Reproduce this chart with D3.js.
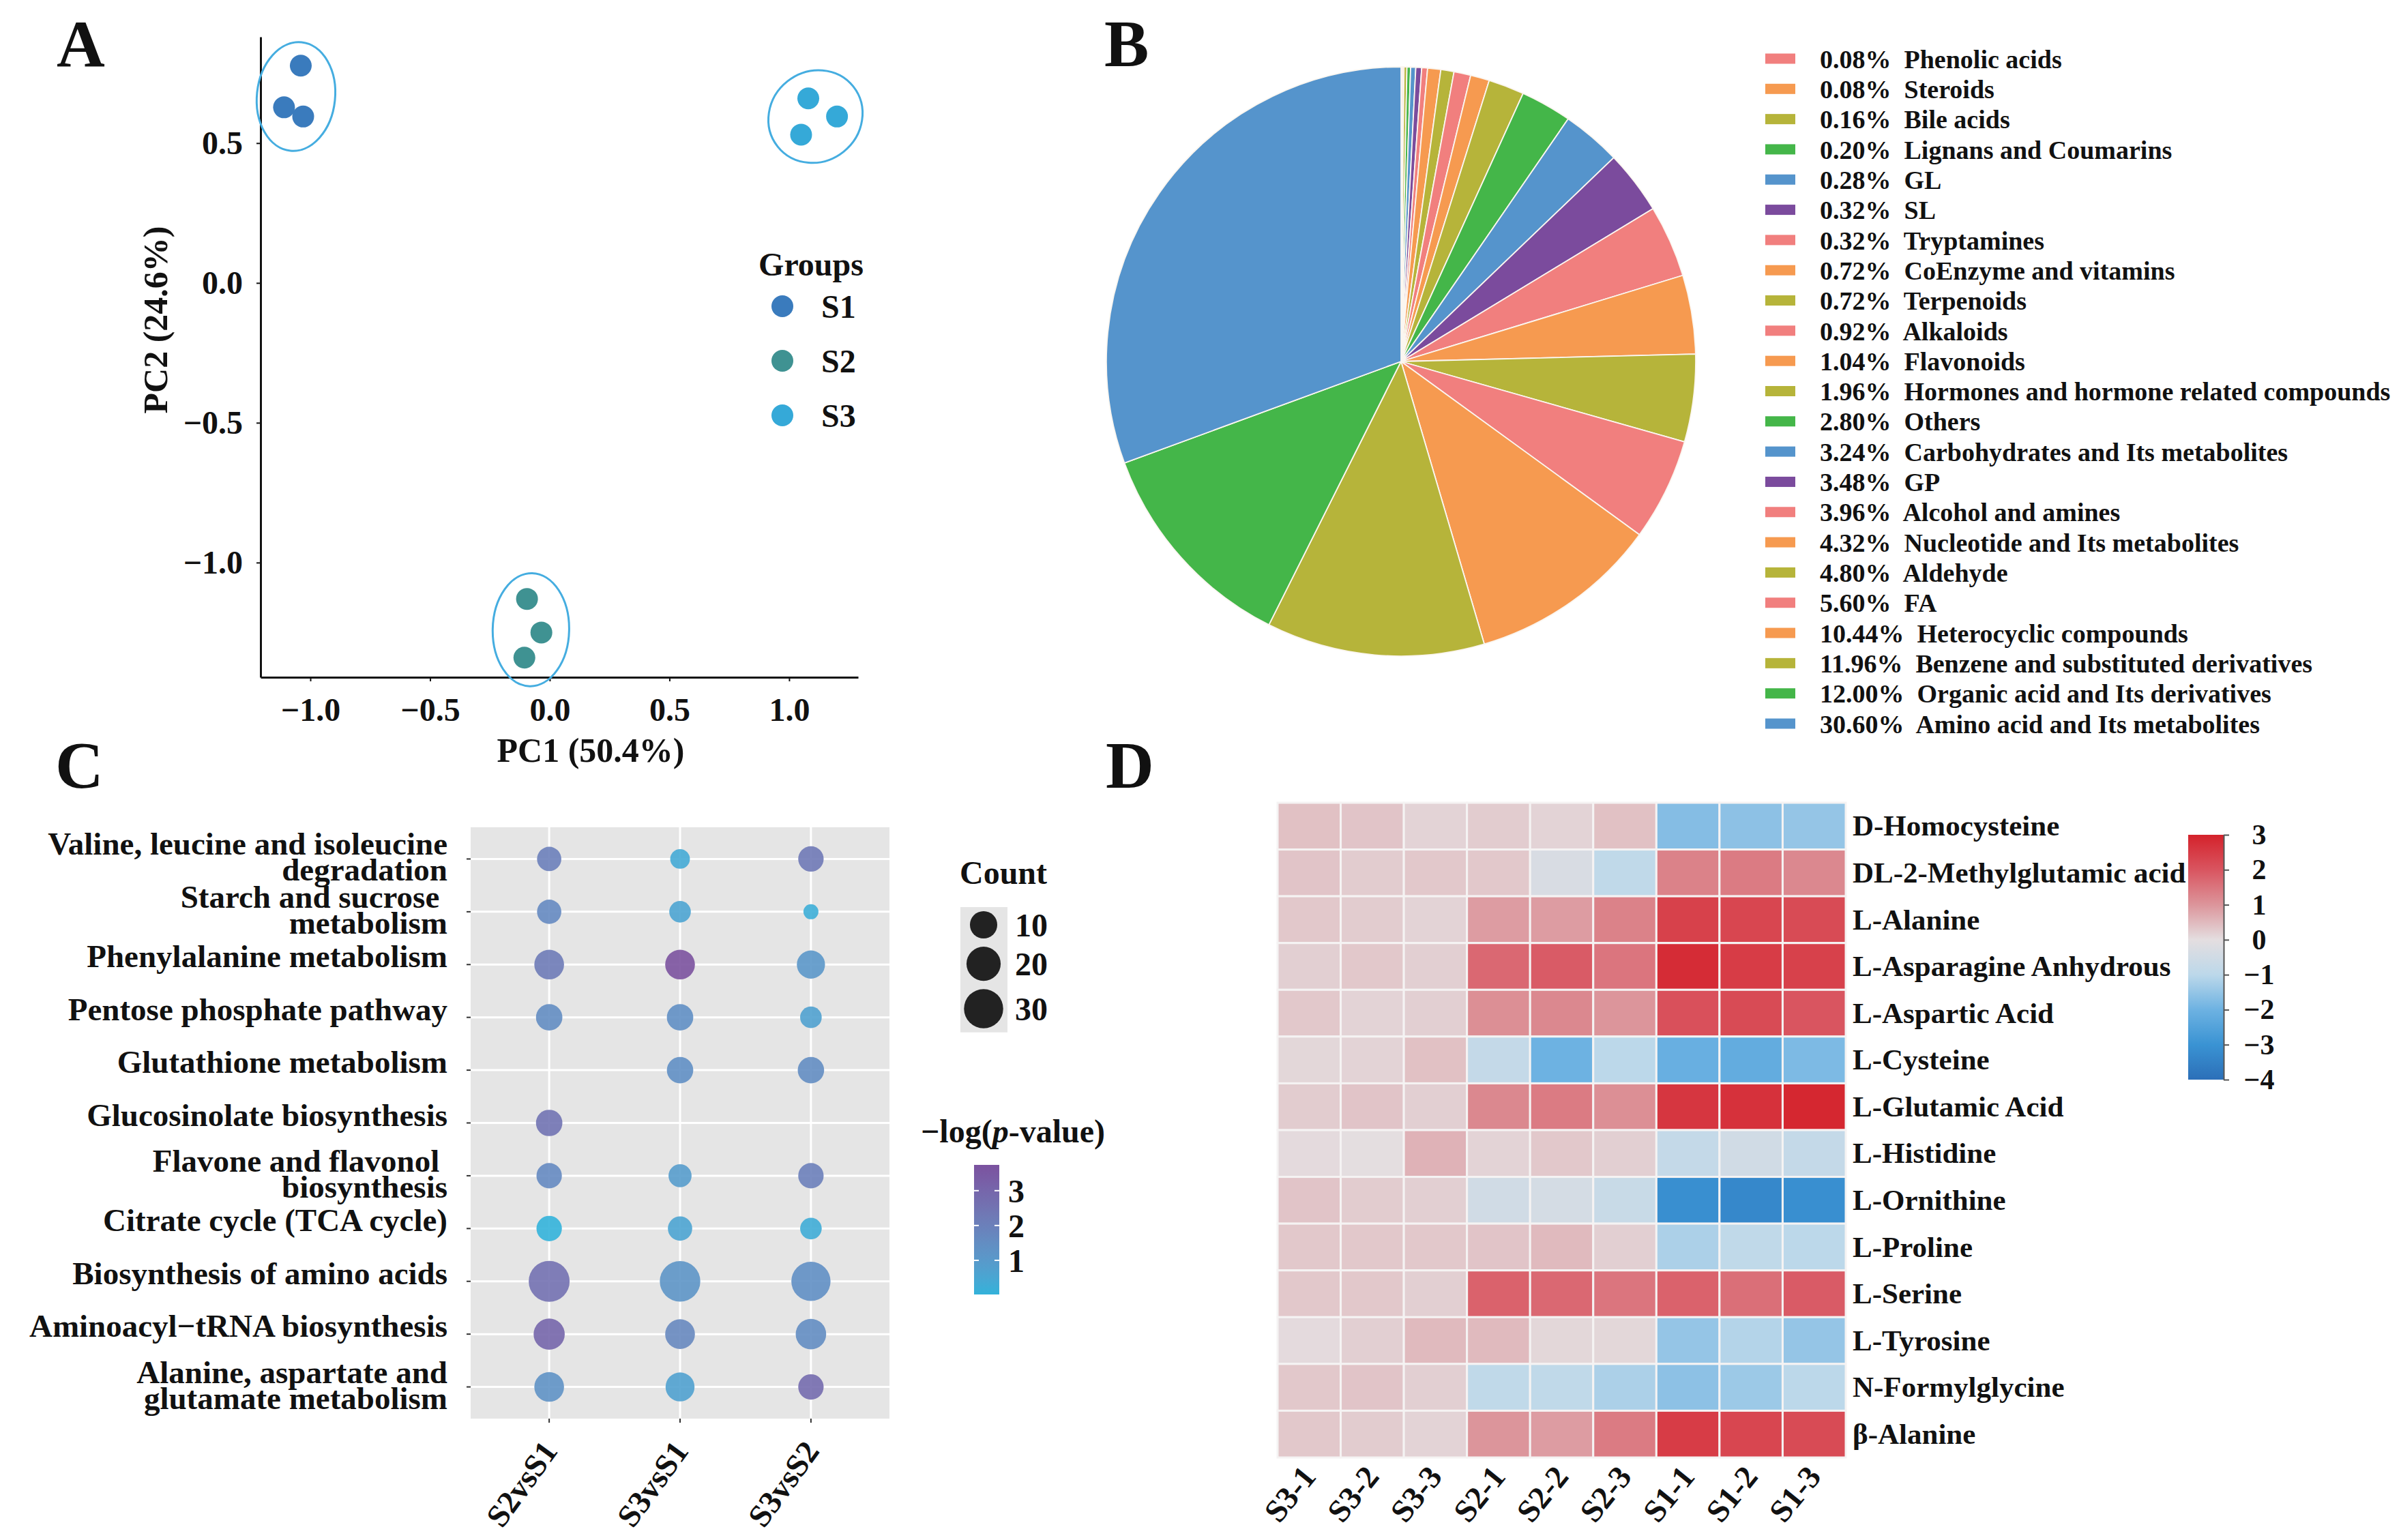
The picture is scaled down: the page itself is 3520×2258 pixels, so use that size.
<!DOCTYPE html>
<html>
<head>
<meta charset="utf-8">
<script src="https://cdn.jsdelivr.net/npm/d3@7"></script>
<style>
  body { margin: 0; background: #fff; }
  svg text { font-family: "Liberation Serif", "Times New Roman", serif; font-weight: bold; fill: #111; }
</style>
</head>
<body>
<script>
// ---- A: PCA ----
const pcaGroups = ["S1", "S2", "S3"];
const pcaSampleGroup = ["S1", "S1", "S1", "S2", "S2", "S2", "S3", "S3", "S3"];
const pcaPC1 = [-1.04, -1.11, -1.03, -0.095, -0.035, -0.106, 1.08, 1.20, 1.05];
const pcaPC2 = [0.777, 0.628, 0.595, -1.13, -1.25, -1.34, 0.66, 0.595, 0.53];
const pcaTicks = [-1.0, -0.5, 0.0, 0.5, 1.0];
const pcaYTicks = [-1.0, -0.5, 0.0, 0.5];

// ---- B: class composition ----
const classNames = ["Phenolic acids", "Steroids", "Bile acids", "Lignans and Coumarins", "GL", "SL",
  "Tryptamines", "CoEnzyme and vitamins", "Terpenoids", "Alkaloids", "Flavonoids",
  "Hormones and hormone related compounds", "Others", "Carbohydrates and Its metabolites", "GP",
  "Alcohol and amines", "Nucleotide and Its metabolites", "Aldehyde", "FA", "Heterocyclic compounds",
  "Benzene and substituted derivatives", "Organic acid and Its derivatives", "Amino acid and Its metabolites"];
const classPercent = [0.08, 0.08, 0.16, 0.20, 0.28, 0.32, 0.32, 0.72, 0.72, 0.92, 1.04, 1.96, 2.80,
  3.24, 3.48, 3.96, 4.32, 4.80, 5.60, 10.44, 11.96, 12.00, 30.60];

// ---- C: KEGG enrichment ----
const pathways = ["Valine, leucine and isoleucine\ndegradation", "Starch and sucrose \nmetabolism",
  "Phenylalanine metabolism", "Pentose phosphate pathway", "Glutathione metabolism",
  "Glucosinolate biosynthesis", "Flavone and flavonol \nbiosynthesis", "Citrate cycle (TCA cycle)",
  "Biosynthesis of amino acids", "Aminoacyl\u2212tRNA biosynthesis", "Alanine, aspartate and\nglutamate metabolism"];
const comparisons = ["S2vsS1", "S3vsS1", "S3vsS2"];
const pathwayCount = [
  [7, 4, 8], [7, 5, 3], [13, 13, 11], [9, 9, 5], [null, 9, 9], [9, null, null],
  [8, 6, 8], [8, 7, 5], [34, 33, 30], [15, 13, 14], [13, 12, 8]];
const pathwayLogP = [
  [2.0, 0.35, 2.3], [1.6, 0.6, 0.2], [2.2, 3.74, 1.1], [1.5, 1.4, 0.7], [null, 1.4, 1.5], [2.5, null, null],
  [1.6, 0.9, 2.0], [0.02, 0.6, 0.25], [2.6, 1.2, 1.4], [3.0, 1.7, 1.5], [1.3, 0.7, 2.8]];
const countLegend = [10, 20, 30];
const logPTicks = [1, 2, 3];

// ---- D: heatmap ----
const samples = ["S3-1", "S3-2", "S3-3", "S2-1", "S2-2", "S2-3", "S1-1", "S1-2", "S1-3"];
const metabolites = ["D-Homocysteine", "DL-2-Methylglutamic acid", "L-Alanine", "L-Asparagine Anhydrous",
  "L-Aspartic Acid", "L-Cysteine", "L-Glutamic Acid", "L-Histidine", "L-Ornithine", "L-Proline",
  "L-Serine", "L-Tyrosine", "N-Formylglycine", "\u03b2-Alanine"];
const zScores = [
  [0.40, 0.35, 0.15, 0.25, 0.15, 0.40, -1.7, -1.6, -1.5],
  [0.35, 0.25, 0.30, 0.30, -0.30, -0.90, 1.3, 1.4, 1.2],
  [0.30, 0.25, 0.15, 0.90, 0.90, 1.30, 2.4, 2.3, 2.2],
  [0.20, 0.30, 0.20, 1.70, 1.90, 1.50, 2.8, 2.5, 2.4],
  [0.30, 0.15, 0.20, 1.10, 1.20, 1.00, 2.1, 2.2, 2.0],
  [0.10, 0.15, 0.40, -0.80, -2.00, -1.00, -2.1, -2.2, -1.8],
  [0.25, 0.35, 0.20, 1.20, 1.40, 1.10, 2.6, 2.7, 2.9],
  [0.05, 0.00, 0.60, 0.15, 0.30, 0.20, -0.8, -0.5, -0.8],
  [0.35, 0.25, 0.20, -0.50, -0.40, -0.70, -3.1, -3.3, -3.1],
  [0.30, 0.30, 0.30, 0.35, 0.50, 0.20, -1.2, -0.9, -1.0],
  [0.30, 0.30, 0.20, 1.80, 1.70, 1.50, 1.8, 1.6, 1.9],
  [0.05, 0.20, 0.50, 0.50, 0.10, 0.10, -1.5, -1.1, -1.5],
  [0.30, 0.35, 0.20, -0.90, -0.90, -1.20, -1.6, -1.4, -1.0],
  [0.30, 0.25, 0.15, 1.00, 0.90, 1.40, 2.5, 2.3, 2.2]];
const zTicks = [-4, -3, -2, -1, 0, 1, 2, 3];

// styles
const groupColors = { S1: "#3a7bbd", S2: "#3f9292", S3: "#35a9d8" };
const pink = "#f17f7e", orange = "#f69a50", olive = "#b6b43a", green = "#44b649", blue = "#5594cc", purple = "#7b4b9d";
const pieColors = [pink, orange, olive, green, blue, purple, pink, orange, olive, pink, orange, olive,
  green, blue, purple, pink, orange, olive, pink, orange, olive, green, blue];
const heatStops = ["#2c6fb8", "#3a93d3", "#6db2e2", "#bcd8ea", "#e4dee0", "#dc959b", "#d95560", "#d4222b"];

const width = 3520;
const height = 2258;

const svg = d3.select("body").append("svg")
  .attr("width", width)
  .attr("height", height)
  .style("display", "block")
  .style("background", "#fff");

const styleAxis = (g, size) => {
  g.attr("font-family", null).attr("font-size", null);
  g.selectAll("text").style("font-size", size + "px");
  g.selectAll("path, line").attr("stroke", "#111");
};

// panel letters
[["A", 83, 97], ["B", 1619, 97], ["C", 81, 1155], ["D", 1621, 1155]].forEach(([t, x, y]) => {
  svg.append("text").attr("x", x).attr("y", y).style("font-size", "98px").text(t);
});

// ================= A =================
const xA = d3.scaleLinear().domain([-1.208, 1.288]).range([382, 1258]);
const yA = d3.scaleLinear().domain([-1.41, 0.88]).range([993, 54]);

const gA = svg.append("g");
gA.append("g")
  .attr("transform", "translate(0,993)")
  .call(d3.axisBottom(xA).tickValues(pcaTicks).tickFormat(d3.format(".1f")).tickSize(6).tickSizeOuter(0).tickPadding(24))
  .call(g => styleAxis(g, 48))
  .call(g => g.select(".domain").attr("stroke-width", 3))
  .call(g => g.selectAll(".tick line").attr("stroke-width", 2));
gA.append("g")
  .attr("transform", "translate(382,0)")
  .call(d3.axisLeft(yA).tickValues(pcaYTicks).tickFormat(d3.format(".1f")).tickSize(6).tickSizeOuter(0).tickPadding(20))
  .call(g => styleAxis(g, 48))
  .call(g => g.select(".domain").attr("stroke-width", 3))
  .call(g => g.selectAll(".tick line").attr("stroke-width", 2));

gA.append("text").attr("x", 866).attr("y", 1117).attr("text-anchor", "middle")
  .style("font-size", "50px").text("PC1 (50.4%)");
gA.append("text").attr("transform", "translate(245,469) rotate(-90)").attr("text-anchor", "middle")
  .style("font-size", "50px").text("PC2 (24.6%)");

const pcaPoints = pcaPC1.map((v, i) => ({ g: pcaSampleGroup[i], x: xA(v), y: yA(pcaPC2[i]) }));

// confidence-style ellipse from the covariance of each group's points
pcaGroups.forEach(grp => {
  const pts = pcaPoints.filter(p => p.g === grp);
  const mx = d3.mean(pts, p => p.x), my = d3.mean(pts, p => p.y);
  let sxx = 0, syy = 0, sxy = 0;
  pts.forEach(p => { sxx += (p.x - mx) ** 2; syy += (p.y - my) ** 2; sxy += (p.x - mx) * (p.y - my); });
  sxx /= pts.length - 1; syy /= pts.length - 1; sxy /= pts.length - 1;
  const tr = sxx + syy, det = sxx * syy - sxy * sxy;
  const disc = Math.sqrt(Math.max(0, tr * tr / 4 - det));
  const l1 = tr / 2 + disc, l2 = tr / 2 - disc;
  const ang = Math.abs(sxy) < 1e-9 ? (sxx >= syy ? 0 : 90) : Math.atan2(l1 - sxx, sxy) * 180 / Math.PI;
  gA.append("ellipse")
    .attr("transform", `translate(${mx},${my}) rotate(${ang})`)
    .attr("rx", 0.9 * Math.sqrt(l1) + 44)
    .attr("ry", 0.9 * Math.sqrt(Math.max(l2, 0)) + 44)
    .attr("fill", "none")
    .attr("stroke", "#45ade0")
    .attr("stroke-width", 3);
});

gA.selectAll("circle.pt")
  .data(pcaPoints)
  .enter()
  .append("circle")
  .attr("class", "pt")
  .attr("cx", d => d.x)
  .attr("cy", d => d.y)
  .attr("r", 16)
  .attr("fill", d => groupColors[d.g]);

const legA = gA.append("g");
legA.append("text").attr("x", 1189).attr("y", 404).attr("text-anchor", "middle").style("font-size", "48px").text("Groups");
const legAy = d3.scalePoint().domain(pcaGroups).range([449, 609]);
pcaGroups.forEach(grp => {
  legA.append("circle").attr("cx", 1147).attr("cy", legAy(grp)).attr("r", 16).attr("fill", groupColors[grp]);
  legA.append("text").attr("x", 1204).attr("y", legAy(grp)).attr("dy", "0.36em").style("font-size", "48px").text(grp);
});

// ================= B =================
const gB = svg.append("g").attr("transform", "translate(2054,530)");
const pie = d3.pie().sort(null).value(d => d).startAngle(0).endAngle(2 * Math.PI);
const arc = d3.arc().innerRadius(0).outerRadius(432);
gB.selectAll("path")
  .data(pie(classPercent))
  .enter()
  .append("path")
  .attr("d", arc)
  .attr("fill", (d, i) => pieColors[i])
  .attr("stroke", "#fbf6f0")
  .attr("stroke-width", 1.8);

const legBy = d3.scaleLinear().domain([0, classNames.length - 1]).range([86, 1061]);
const legB = svg.append("g");
classNames.forEach((name, i) => {
  legB.append("rect").attr("x", 2588).attr("y", legBy(i) - 7.5).attr("width", 44).attr("height", 15).attr("fill", pieColors[i]);
  legB.append("text")
    .attr("x", 2668).attr("y", legBy(i)).attr("dy", "0.36em")
    .style("font-size", "38px").style("white-space", "pre")
    .text(d3.format(".2f")(classPercent[i]) + "%  " + name);
});

// ================= C =================
const gC = svg.append("g");
const panelC = { x0: 690, x1: 1304, y0: 1213, y1: 2080 };
const xC = d3.scalePoint().domain(comparisons).range([panelC.x0, panelC.x1]).padding(0.6);
const yC = d3.scalePoint().domain(pathways).range([panelC.y0, panelC.y1]).padding(0.6);

gC.append("rect").attr("x", panelC.x0).attr("y", panelC.y0)
  .attr("width", panelC.x1 - panelC.x0).attr("height", panelC.y1 - panelC.y0).attr("fill", "#e5e5e5");
comparisons.forEach(c => {
  gC.append("line").attr("x1", xC(c)).attr("x2", xC(c)).attr("y1", panelC.y0).attr("y2", panelC.y1)
    .attr("stroke", "#fff").attr("stroke-width", 3);
  gC.append("line").attr("x1", xC(c)).attr("x2", xC(c)).attr("y1", panelC.y1).attr("y2", panelC.y1 + 6)
    .attr("stroke", "#333").attr("stroke-width", 2);
  gC.append("text")
    .attr("transform", `translate(${xC(c) + 14},${panelC.y1 + 48}) rotate(-54)`)
    .attr("text-anchor", "end")
    .style("font-size", "47px")
    .text(c);
});
pathways.forEach(p => {
  const yc = yC(p);
  gC.append("line").attr("x1", panelC.x0).attr("x2", panelC.x1).attr("y1", yc).attr("y2", yc)
    .attr("stroke", "#fff").attr("stroke-width", 3);
  gC.append("line").attr("x1", panelC.x0 - 6).attr("x2", panelC.x0).attr("y1", yc).attr("y2", yc)
    .attr("stroke", "#333").attr("stroke-width", 2);
  const lines = p.split("\n");
  const t = gC.append("text").attr("text-anchor", "end").style("font-size", "47px").style("white-space", "pre");
  if (lines.length === 1) {
    t.append("tspan").attr("x", 656).attr("y", yc + 4).text(lines[0]);
  } else {
    t.append("tspan").attr("x", 656).attr("y", yc - 6).text(lines[0]);
    t.append("tspan").attr("x", 656).attr("y", yc + 32).text(lines[1]);
  }
});

const allCounts = pathwayCount.flat().filter(v => v != null);
const allLogP = pathwayLogP.flat().filter(v => v != null);
const countMin = d3.min(allCounts), countMax = d3.max(allCounts);
const sizeC = d3.scaleSqrt().domain([0, countMax - countMin]).range([11, 30]);
const radiusOf = c => sizeC(Math.max(0, c - countMin));
const colorC = d3.scaleLinear().domain(d3.extent(allLogP)).range(["#33b2da", "#7b529f"]).interpolate(d3.interpolateLab);

const dotData = [];
pathways.forEach((p, i) => comparisons.forEach((c, j) => {
  if (pathwayCount[i][j] != null) dotData.push({ p, c, n: pathwayCount[i][j], v: pathwayLogP[i][j] });
}));
gC.selectAll("circle.dot")
  .data(dotData)
  .enter()
  .append("circle")
  .attr("class", "dot")
  .attr("cx", d => xC(d.c))
  .attr("cy", d => yC(d.p))
  .attr("r", d => radiusOf(d.n))
  .attr("fill", d => colorC(d.v))
  .attr("fill-opacity", 0.9);

// size legend
gC.append("text").attr("x", 1407).attr("y", 1296).style("font-size", "48px").text("Count");
const keyH = countLegend.map(c => Math.max(2 * radiusOf(c) + 12, 50));
gC.append("rect").attr("x", 1408).attr("y", 1330).attr("width", 69).attr("height", d3.sum(keyH)).attr("fill", "#e5e5e5");
let keyY = 1330;
countLegend.forEach((c, i) => {
  const cy = keyY + keyH[i] / 2;
  gC.append("circle").attr("cx", 1442).attr("cy", cy).attr("r", radiusOf(c)).attr("fill", "#222");
  gC.append("text").attr("x", 1488).attr("y", cy).attr("dy", "0.36em").style("font-size", "48px").text(c);
  keyY += keyH[i];
});

// colour legend
const cbC = { x: 1428, w: 37, y0: 1708, y1: 1898 };
const yCb = d3.scaleLinear().domain(colorC.domain()).range([cbC.y1, cbC.y0]);
const defs = svg.append("defs");
const gradC = defs.append("linearGradient").attr("id", "gradC").attr("x1", 0).attr("x2", 0).attr("y1", 1).attr("y2", 0);
d3.range(0, 1.0001, 0.1).forEach(t => {
  const v = colorC.domain()[0] + t * (colorC.domain()[1] - colorC.domain()[0]);
  gradC.append("stop").attr("offset", t).attr("stop-color", colorC(v));
});
const titleC = gC.append("text").attr("x", 1620).attr("y", 1675).attr("text-anchor", "end").style("font-size", "48px");
titleC.append("tspan").text("\u2212log(");
titleC.append("tspan").style("font-style", "italic").text("p");
titleC.append("tspan").text("-value)");
gC.append("rect").attr("x", cbC.x).attr("y", cbC.y0).attr("width", cbC.w).attr("height", cbC.y1 - cbC.y0).attr("fill", "url(#gradC)");
logPTicks.forEach(t => {
  [cbC.x, cbC.x + cbC.w - 7].forEach(x0 => {
    gC.append("line").attr("x1", x0).attr("x2", x0 + 7).attr("y1", yCb(t)).attr("y2", yCb(t))
      .attr("stroke", "#fff").attr("stroke-width", 2);
  });
  gC.append("text").attr("x", 1478).attr("y", yCb(t)).attr("dy", "0.36em").style("font-size", "48px").text(t);
});

// ================= D =================
const gD = svg.append("g");
const xD = d3.scaleBand().domain(samples).range([1873, 2706]);
const yD = d3.scaleBand().domain(metabolites).range([1177, 2137]);
const colorD = d3.scaleLinear().domain(zTicks).range(heatStops).clamp(true);

const cells = [];
metabolites.forEach((m, i) => samples.forEach((s, j) => cells.push({ m, s, v: zScores[i][j] })));
gD.selectAll("rect.cell")
  .data(cells)
  .enter()
  .append("rect")
  .attr("class", "cell")
  .attr("x", d => xD(d.s))
  .attr("y", d => yD(d.m))
  .attr("width", xD.bandwidth())
  .attr("height", yD.bandwidth())
  .attr("fill", d => colorD(d.v))
  .attr("stroke", "#f5f3f3")
  .attr("stroke-width", 3);

metabolites.forEach(m => {
  gD.append("text").attr("x", 2716).attr("y", yD(m) + yD.bandwidth() / 2).attr("dy", "0.33em")
    .style("font-size", "43px").text(m);
});
samples.forEach(s => {
  gD.append("text")
    .attr("transform", `translate(${xD(s) + xD.bandwidth() / 2 + 12},2166) rotate(-51)`)
    .attr("text-anchor", "end")
    .style("font-size", "47px")
    .text(s);
});

// colour bar
const yZ = d3.scaleLinear().domain([-4, 3]).range([1583, 1224]);
const gradD = defs.append("linearGradient").attr("id", "gradD").attr("x1", 0).attr("x2", 0).attr("y1", 1).attr("y2", 0);
zTicks.forEach((t, i) => gradD.append("stop").attr("offset", i / (zTicks.length - 1)).attr("stop-color", colorD(t)));
gD.append("rect").attr("x", 3208).attr("y", 1224).attr("width", 52).attr("height", 359).attr("fill", "url(#gradD)");
gD.append("g")
  .attr("transform", "translate(3260,0)")
  .call(d3.axisRight(yZ).tickValues(zTicks).tickFormat(d3.format("d")).tickSize(8).tickSizeOuter(0))
  .call(g => styleAxis(g, 42))
  .call(g => g.selectAll("path, line").attr("stroke", "#555").attr("stroke-width", 2))
  .call(g => g.selectAll("text").attr("x", 52).attr("text-anchor", "middle"));
</script>
</body>
</html>
